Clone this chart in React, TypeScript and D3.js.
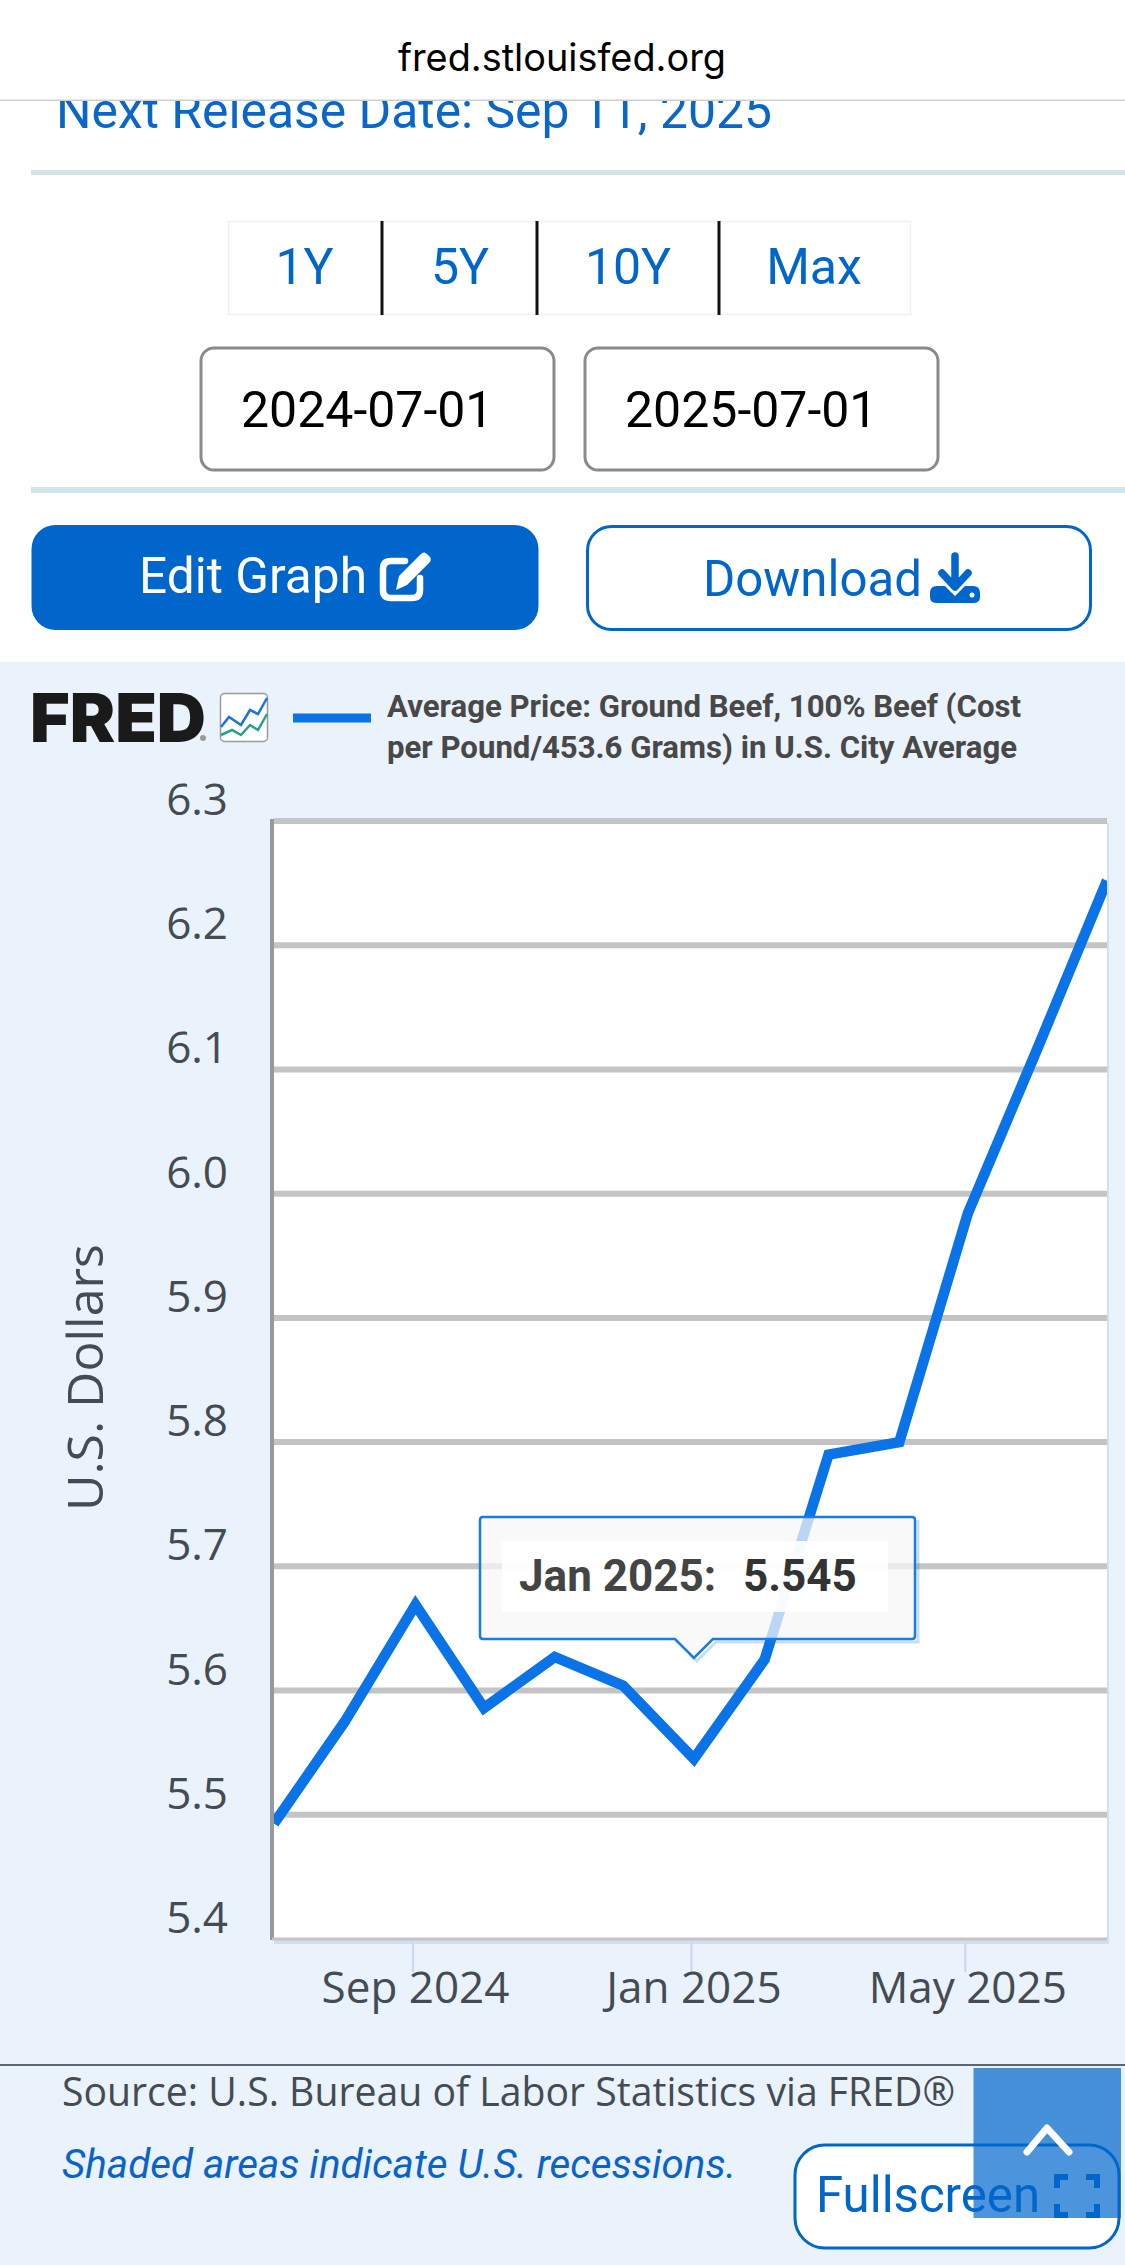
import React from "react";
import * as d3 from "d3";

const months = ["2024-07-01","2024-08-01","2024-09-01","2024-10-01","2024-11-01","2024-12-01","2025-01-01","2025-02-01","2025-03-01","2025-04-01","2025-05-01","2025-06-01","2025-07-01"];
const prices = [5.493,5.575,5.669,5.586,5.627,5.604,5.545,5.625,5.790,5.800,5.984,6.119,6.252];
const yTicks = [5.4,5.5,5.6,5.7,5.8,5.9,6.0,6.1,6.2,6.3];
const xTickDates = ["2024-09-01","2025-01-01","2025-05-01"];
const xTickLabels = ["Sep 2024","Jan 2025","May 2025"];
const rangeButtons = ["1Y","5Y","10Y","Max"];
const legendLines = ["Average Price: Ground Beef, 100% Beef (Cost","per Pound/453.6 Grams) in U.S. City Average"];

const parse = d3.utcParse("%Y-%m-%d");
const W = 1125, H = 2265;
const plot = { left: 274, right: 1107, top: 821, bottom: 1939 };
const x = d3.scaleUtc().domain([parse(months[0])!, parse(months[months.length-1])!]).range([plot.left, plot.right]);
const y = d3.scaleLinear().domain([5.4,6.3]).range([plot.bottom, plot.top]);
const lineGen = d3.line<number>().x((_, i) => x(parse(months[i])!)).y(d => y(d));

const BLUE = "#0066cc", LINE = "#0a73e8", ROBOTO = "Roboto", OPEN = "'Open Sans'";
const FIT = "spacingAndGlyphs";

export default function App() {
  const tipX = x(parse("2025-01-01")!);
  return (
    <svg width={W} height={H} viewBox={`0 0 ${W} ${H}`} style={{ position: "absolute", left: 0, top: 0, display: "block", background: "#fff" }}>
      <defs>
        <clipPath id="plotClip"><rect x={plot.left} y={plot.top-6} width={plot.right-plot.left} height={plot.bottom-plot.top+6} /></clipPath>
      </defs>

      {/* page header */}
      <text x={56} y={128} fontFamily={ROBOTO} fontSize={50} fill="#0a66c8" textLength={716} lengthAdjust={FIT}>Next Release Date: Sep 11, 2025</text>
      <rect x={0} y={0} width={W} height={100} fill="#fff" />
      <rect x={0} y={99.5} width={W} height={1.5} fill="#cfcfcf" />
      <text x={398} y={71} fontFamily="Inter" fontSize={38} fill="#000" textLength={328} lengthAdjust={FIT}>fred.stlouisfed.org</text>
      <rect x={31} y={170} width={W-31} height={5} fill="#d2e5ea" />

      {/* range buttons */}
      <rect x={228.5} y={221.5} width={682} height={93} fill="#fff" stroke="#f0f0f0" strokeWidth={1.5} />
      {[382,537,719].map(sx => <line key={sx} x1={sx} x2={sx} y1={221} y2={315} stroke="#111" strokeWidth={3} />)}
      {rangeButtons.map((b,i) => (
        <text key={b} x={[304.5,460,628,814][i]} y={284} textAnchor="middle" fontFamily={ROBOTO} fontSize={50} fill={BLUE}>{b}</text>
      ))}

      {/* date inputs */}
      <rect x={201} y={348} width={353} height={122} rx={13} fill="#fff" stroke="#8a8a8a" strokeWidth={3} />
      <rect x={585} y={348} width={353} height={122} rx={13} fill="#fff" stroke="#8a8a8a" strokeWidth={3} />
      <text x={241} y={427} fontFamily={ROBOTO} fontSize={50} fill="#000">2024-07-01</text>
      <text x={625} y={427} fontFamily={ROBOTO} fontSize={50} fill="#000">2025-07-01</text>
      <rect x={31} y={487} width={W-31} height={6} fill="#d2e5ea" />

      {/* action buttons */}
      <rect x={31.5} y={525} width={507} height={105} rx={24} fill={BLUE} />
      <text x={139} y={593} fontFamily={ROBOTO} fontSize={50} fill="#fff" textLength={228} lengthAdjust={FIT}>Edit Graph</text>
      <g fill="none" stroke="#fff" strokeWidth={6.5} strokeLinecap="round" strokeLinejoin="round">
        <path d="M405 561 H391 Q383 561 383 569 V590 Q383 598 391 598 H412 Q420 598 420 590 V578" />
      </g>
      <path d="M396 590 L399 576 L421 554 Q424 551 427 554 L430 557 Q432 560 429 563 L407 585 Z" fill="#fff" />
      <rect x={587.5} y={526.5} width={503} height={103} rx={24} fill="#fff" stroke={BLUE} strokeWidth={3} />
      <text x={703} y={596} fontFamily={ROBOTO} fontSize={50} fill={BLUE} textLength={219} lengthAdjust={FIT}>Download</text>
      <path d="M955 556 V585 M942 573 L955 587 L968 573" fill="none" stroke={BLUE} strokeWidth={7.5} strokeLinecap="round" strokeLinejoin="round" />
      <path d="M937 586 H945 L955 596 L965 586 H973 Q980 586 980 593 V597 Q980 603 973 603 H937 Q930 603 930 597 V593 Q930 586 937 586 Z" fill={BLUE} />
      <circle cx={972} cy={595} r={2.5} fill="#fff" />

      {/* chart panel */}
      <rect x={0} y={662} width={W} height={H-662} fill="#eaf2fb" />
      <text x={30} y={742} fontFamily="Inter" fontWeight={900} fontSize={67} fill="#1a1a1a" textLength={176} lengthAdjust={FIT}>FRED</text>
      <circle cx={203} cy={738} r={3} fill="#9a9a9a" />
      <rect x={220.5} y={693.5} width={47} height={48} rx={4} fill="#fff" stroke="#9a9a9a" strokeWidth={1.5} />
      <polyline points="221,727 229,717 241,725 250,710 258,714 267,698" fill="none" stroke="#1b73e0" strokeWidth={2.5} />
      <polyline points="221,735 232,730 241,735 250,725 258,730 267,714" fill="none" stroke="#2aa08a" strokeWidth={2.5} />
      <rect x={293} y={713.5} width={78} height={9} fill={LINE} />
      {legendLines.map((t,i) => (
        <text key={t} x={387} y={717+i*41} fontFamily={ROBOTO} fontWeight={700} fontSize={32} fill="#484848" textLength={[634,630][i]} lengthAdjust={FIT}>{t}</text>
      ))}

      {/* plot */}
      <rect x={plot.left} y={plot.top+2} width={plot.right-plot.left+2} height={plot.bottom-plot.top+3} fill="#d5deef" />
      <rect x={plot.left} y={plot.top} width={plot.right-plot.left} height={plot.bottom-plot.top} fill="#fff" />
      {yTicks.filter(t => t > 5.45).map(t => (
        <line key={t} x1={plot.left} x2={plot.right} y1={y(t)} y2={y(t)} stroke="#c4c4c4" strokeWidth={6} />
      ))}
      <line x1={plot.left-2} x2={plot.left-2} y1={plot.top-2} y2={plot.bottom+1} stroke="#999" strokeWidth={4} />
      <line x1={plot.left-2} x2={plot.right} y1={plot.bottom} y2={plot.bottom} stroke="#c4c4c4" strokeWidth={3} />
      {yTicks.map(t => (
        <text key={t} x={228} y={y(t)-6} textAnchor="end" fontFamily={OPEN} fontSize={44} fill="#444b52">{t.toFixed(1)}</text>
      ))}
      <text transform="translate(103,1511) rotate(-90)" fontFamily={OPEN} fontSize={50} fill="#444b52">U.S. Dollars</text>
      {xTickDates.map((d,i) => {
        const px = x(parse(d)!);
        return (
          <g key={d}>
            <line x1={px-2.5} x2={px-2.5} y1={1942} y2={1972} stroke="#ccd6eb" strokeWidth={2} />
            <text x={px} y={2003} textAnchor="middle" fontFamily={OPEN} fontSize={44} fill="#444b52">{xTickLabels[i]}</text>
          </g>
        );
      })}
      <g clipPath="url(#plotClip)">
        <path d={lineGen(prices) ?? ""} fill="none" stroke={LINE} strokeWidth={10.5} strokeLinejoin="miter" />
      </g>

      {/* tooltip */}
      <path d={`M918 1520 V1642 H${tipX+22} L${tipX+3} 1661 L${tipX-4} 1654`} fill="none" stroke="#1a7be0" strokeOpacity={0.25} strokeWidth={3} />
      <path d={`M483 1517 H912 Q915 1517 915 1520 V1636 Q915 1639 912 1639 H${tipX+19} L${tipX} 1658 L${tipX-19} 1639 H483 Q480 1639 480 1636 V1520 Q480 1517 483 1517 Z`} fill="#f7f7f7" fillOpacity={0.75} stroke="#1a7be0" strokeWidth={2.5} />
      <rect x={502} y={1541} width={386} height={71} fill="#fff" fillOpacity={0.88} />
      <text x={519} y={1591} fontFamily={ROBOTO} fontWeight={700} fontSize={44} fill="#444">Jan 2025:</text>
      <text x={743} y={1591} fontFamily={ROBOTO} fontWeight={700} fontSize={44} fill="#333">5.545</text>

      {/* footer */}
      <rect x={0} y={2064} width={W} height={2} fill="#5b6674" />
      <text x={62} y={2106} fontFamily={OPEN} fontSize={40} fill="#444b52" textLength={893} lengthAdjust={FIT}>Source: U.S. Bureau of Labor Statistics via FRED®</text>
      <text x={62} y={2178} fontFamily={ROBOTO} fontStyle="italic" fontSize={41} fill="#0a63c9" textLength={674} lengthAdjust={FIT}>Shaded areas indicate U.S. recessions.</text>
      <rect x={795} y={2145} width={324} height={103} rx={30} fill="#fff" stroke={BLUE} strokeWidth={3} />
      <text x={816} y={2212} fontFamily={ROBOTO} fontSize={50} fill={BLUE} textLength={224} lengthAdjust={FIT}>Fullscreen</text>
      <path d="M1057 2188 V2177 H1068 M1086 2177 H1097 V2188 M1097 2204 V2215 H1086 M1068 2215 H1057 V2204" fill="none" stroke={BLUE} strokeWidth={6} />
      <rect x={973.5} y={2068} width={147.5} height={150} fill={BLUE} fillOpacity={0.7} />
      <path d="M1027 2152 L1047 2128 L1069 2152" fill="none" stroke="#fff" strokeWidth={7} strokeLinecap="round" strokeLinejoin="round" />
    </svg>
  );
}
